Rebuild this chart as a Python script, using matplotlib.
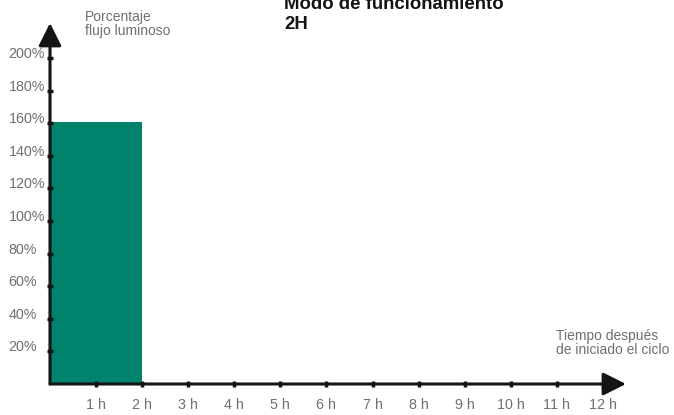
import matplotlib
matplotlib.use('Agg')
import matplotlib.pyplot as plt

plt.rcParams['font.family'] = ['Liberation Sans', 'DejaVu Sans']

# datos del grafico
horas = [1, 2, 3, 4, 5, 6, 7, 8, 9, 10, 11, 12]
etiquetas_horas = [f'{h} h' for h in horas]
porcentajes = [20, 40, 60, 80, 100, 120, 140, 160, 180, 200]
etiquetas_pct = [f'{p}%' for p in porcentajes]

# tramos de funcionamiento (modo 2H)
inicio_tramo = [0]
duracion_tramo = [2]
flujo_tramo = [161]

gris = '#6f6f6f'
negro = '#141414'
verde = '#00826c'

W, H = 674, 415
fig = plt.figure(figsize=(W / 100, H / 100), dpi=100)
ax = fig.add_axes([50 / W, 31 / H, 576 / W, 361 / H])
ax.set_xlim(0, 12.5)
ax.set_ylim(0, 221.5)

ax.bar(inicio_tramo, flujo_tramo, width=duracion_tramo, align='edge',
       color=verde, edgecolor='none', zorder=1)

for s in ax.spines.values():
    s.set_visible(False)

# ejes con flecha
flecha = dict(arrowstyle='-|>,head_length=1.4,head_width=0.7', mutation_scale=10,
              lw=2.2, color=negro, shrinkA=0, shrinkB=0)
ax.annotate('', xy=(12.5, 0), xytext=(0, 0), arrowprops=flecha, zorder=3)
ax.annotate('', xy=(0, 221.5), xytext=(0, 0), arrowprops=flecha, zorder=3)

ax.set_xticks(horas)
ax.set_xticklabels(etiquetas_horas, color=gris, fontsize=10.3)
ax.set_yticks(porcentajes)
ax.set_yticklabels(etiquetas_pct, color=gris, fontsize=10.3,
                   ha='left', va='baseline')
ax.tick_params(axis='both', direction='inout', length=4, width=2.5, color=negro)
ax.tick_params(axis='x', pad=8)
ax.tick_params(axis='y', pad=27.9)

# textos (va='baseline' toma la ultima linea)
fig.text(85 / W, 1 - 35 / H, 'Porcentaje\nflujo luminoso', color=gris,
         fontsize=10, va='baseline', linespacing=1.0)
fig.text(556 / W, 1 - 354 / H, 'Tiempo después\nde iniciado el ciclo', color=gris,
         fontsize=10, va='baseline', linespacing=1.0)
fig.text(284 / W, 1 - 29 / H, 'Modo de funcionamiento\n2H', color=negro,
         fontsize=13.4, fontweight='bold', va='baseline', linespacing=1.2)

fig.savefig('out.png', dpi=100, facecolor='white')
